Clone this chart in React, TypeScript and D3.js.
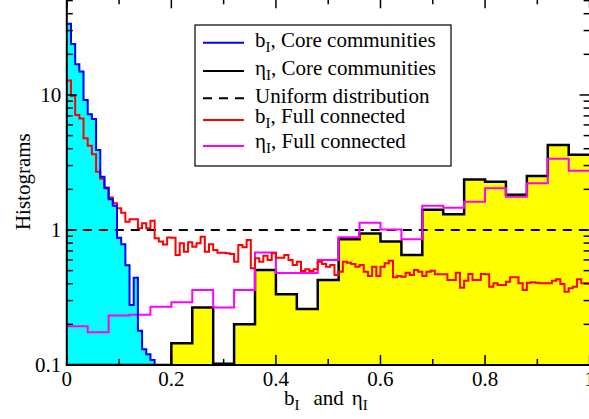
import React from "react";
import * as d3 from "d3";

// ---------- data ----------
const fineBinWidth = 0.008; // b_I histograms (125 bins)
const coarseBinWidth = 0.04; // eta_I histograms (25 bins)

// b_I, Core communities (blue / cyan fill)
const bCore = [
  33.7, 23.9, 16.9, 14.9, 9.19, 7.19, 6.64, 3.92, 2.48, 2.04, 1.69, 1.51, 0.877,
  0.783, 0.547, 0.278, 0.443, 0.179, 0.131, 0.12, 0.109, 0,
];

// eta_I, Core communities (black / yellow fill)
const etaCore = [
  0, 0, 0, 0, 0, 0.145, 0.267, 0.102, 0.2, 0.505, 0.334, 0.26, 0.426, 0.853,
  0.94, 0.82, 0.653, 1.41, 1.31, 2.37, 2.28, 1.82, 2.51, 4.26, 3.61,
];

// b_I, Full connected (red)
const bFull = [
  12.8, 9.84, 7.11, 6.7, 4.78, 4.21, 3.64, 2.7, 2.4, 2.06, 1.74, 1.58, 1.45,
  1.34, 1.15, 1.2, 1.2, 1.03, 1.12, 1.03, 1.17, 0.868, 0.82, 0.78, 0.88, 0.877,
  0.653, 0.797, 0.691, 0.811, 0.752, 0.797, 0.892, 0.691, 0.783, 0.711, 0.679,
  0.679, 0.672, 0.664, 0.582, 0.774, 0.744, 0.843, 0.52, 0.617, 0.582, 0.645,
  0.6, 0.672, 0.624, 0.624, 0.653, 0.6, 0.55, 0.582, 0.497, 0.512, 0.497, 0.512,
  0.582, 0.56, 0.535, 0.55, 0.464, 0.491, 0.582, 0.573, 0.56, 0.535, 0.55,
  0.491, 0.456, 0.535, 0.456, 0.535, 0.566, 0.593, 0.446, 0.456, 0.451, 0.483,
  0.464, 0.505, 0.491, 0.456, 0.491, 0.5, 0.47, 0.47, 0.47, 0.426, 0.426, 0.483,
  0.374, 0.42, 0.472, 0.426, 0.426, 0.472, 0.47, 0.38, 0.403, 0.391, 0.391,
  0.414, 0.446, 0.446, 0.403, 0.36, 0.407, 0.41, 0.407, 0.403, 0.403, 0.403,
  0.42, 0.431, 0.398, 0.349, 0.37, 0.38, 0.431, 0.403, 0.403,
];

// eta_I, Full connected (magenta)
const etaFull = [
  0.194, 0.175, 0.233, 0.236, 0.27, 0.291, 0.36, 0.267, 0.36, 0.68, 0.48, 0.48,
  0.6, 0.883, 1.13, 1.01, 0.853, 1.51, 1.46, 1.62, 2.04, 1.76, 2.22, 3.37, 2.75,
];

const uniformLevel = 1;

const xDomain = [0, 1];
const yDomain = [0.1, 52];
const xMajorTicks = [0, 0.2, 0.4, 0.6, 0.8, 1];
const xTickLabels = ["0", "0.2", "0.4", "0.6", "0.8", "1"];
const xMinorTicks = [0.1, 0.3, 0.5, 0.7, 0.9];
const yMajorTicks = [0.1, 1, 10];
const yTickLabels = ["0.1", "1", "10"];
const yMinorTicks = [
  0.2, 0.3, 0.4, 0.5, 0.6, 0.7, 0.8, 0.9, 2, 3, 4, 5, 6, 7, 8, 9, 20, 30, 40, 50,
];

const legendSymbols = ["b", "η", "", "b", "η"];
const legendTexts = [
  ", Core communities",
  ", Core communities",
  "Uniform distribution",
  ", Full connected",
  ", Full connected",
];
const legendColors = ["#0000ff", "#000000", "#000000", "#ff0000", "#ff00ff"];
const legendDashed = [false, false, true, false, false];

const xAxisTitle = ["b", "I", "and", "η", "I"];
const yAxisTitle = "Histograms";

// ---------- component ----------
export default function App() {
  const W = 589;
  const H = 419;
  const left = 66.8;
  const right = 589.6;
  const bottom = 365;
  const font = "'Liberation Serif', 'Times New Roman', Times, serif";
  const fs = 21;

  const x = d3.scaleLinear().domain(xDomain).range([left, right]);
  const y = d3.scaleLog().domain(yDomain).range([bottom, -1.7]);
  const top = y(yDomain[1]);
  const yMin = yDomain[0];

  const steps = (vals: number[], w: number) => {
    const pts: [number, number][] = vals.map((v, i) => [i * w, v]);
    pts.push([vals.length * w, vals[vals.length - 1]]);
    return pts;
  };

  const line = d3
    .line<[number, number]>()
    .x((d) => x(d[0]))
    .y((d) => y(Math.max(d[1], yMin)))
    .curve(d3.curveStepAfter);
  const area = d3
    .area<[number, number]>()
    .x((d) => x(d[0]))
    .y0(y(yMin))
    .y1((d) => y(Math.max(d[1], yMin)))
    .curve(d3.curveStepAfter);

  const bCorePts = steps(bCore, fineBinWidth);
  const etaCorePts = steps(etaCore, coarseBinWidth);
  const bFullPts = steps(bFull, fineBinWidth);
  const etaFullPts = steps(etaFull, coarseBinWidth);

  const legend = {
    x0: 195,
    y0: 25,
    w: 256,
    h: 141,
    lineX0: 203,
    lineX1: 244,
    textX: 255,
    baselines: [47, 75, 103, 123, 148],
    lineYs: [42.7, 71, 98.3, 120, 146],
  };

  const textStyle = { fontFamily: font };

  return (
    <svg
      width={W}
      height={H}
      style={{ position: "absolute", left: 0, top: 0, background: "#fff", fontFamily: font }}
    >
      <defs>
        <clipPath id="plotClip">
          <rect x={left} y={top} width={right - left + 2} height={bottom - top} />
        </clipPath>
      </defs>
      <rect x={0} y={0} width={W} height={H} fill="#fff" />
      <g clipPath="url(#plotClip)">
        <path d={area(bCorePts) || ""} fill="#00ffff" stroke="none" />
        <path d={area(etaCorePts) || ""} fill="#ffff00" stroke="none" />
        <line
          x1={x(0)}
          x2={x(1)}
          y1={y(uniformLevel)}
          y2={y(uniformLevel)}
          stroke="#000"
          strokeWidth={2}
          strokeDasharray="9,7"
        />
        <path d={line(etaCorePts) || ""} fill="none" stroke="#000" strokeWidth={2.5} />
        <path d={line(etaFullPts) || ""} fill="none" stroke="#ff00ff" strokeWidth={2} />
        <path d={line(bFullPts) || ""} fill="none" stroke="#ff0000" strokeWidth={2} />
        <path d={line(bCorePts) || ""} fill="none" stroke="#0000ff" strokeWidth={2} />
      </g>

      {/* frame */}
      <line x1={left} x2={left} y1={top} y2={bottom + 1} stroke="#000" strokeWidth={2} />
      <line x1={left - 1} x2={right + 2} y1={bottom} y2={bottom} stroke="#000" strokeWidth={2} />
      <line x1={left} x2={right + 2} y1={top} y2={top} stroke="#000" strokeWidth={2} />

      {/* x ticks */}
      {xMajorTicks.map((t) => (
        <g key={"xM" + t}>
          <line x1={x(t)} x2={x(t)} y1={bottom} y2={bottom - 10} stroke="#000" strokeWidth={1.5} />
          <line x1={x(t)} x2={x(t)} y1={top} y2={top + 10} stroke="#000" strokeWidth={1.5} />
        </g>
      ))}
      {xMinorTicks.map((t) => (
        <g key={"xm" + t}>
          <line x1={x(t)} x2={x(t)} y1={bottom} y2={bottom - 6} stroke="#000" strokeWidth={1.5} />
          <line x1={x(t)} x2={x(t)} y1={top} y2={top + 6} stroke="#000" strokeWidth={1.5} />
        </g>
      ))}
      {xMajorTicks.map((t, i) => (
        <text key={"xl" + t} x={x(t)} y={bottom + 21} fontSize={fs} textAnchor="middle" fill="#000" style={textStyle}>
          {xTickLabels[i]}
        </text>
      ))}

      {/* y ticks */}
      {yMajorTicks.map((t) => (
        <g key={"yM" + t}>
          <line x1={left} x2={left + 10} y1={y(t)} y2={y(t)} stroke="#000" strokeWidth={1.5} />
          <line x1={right} x2={right - 10} y1={y(t)} y2={y(t)} stroke="#000" strokeWidth={1.5} />
        </g>
      ))}
      {yMinorTicks.map((t) => (
        <g key={"ym" + t}>
          <line x1={left} x2={left + 6} y1={y(t)} y2={y(t)} stroke="#000" strokeWidth={1.5} />
          <line x1={right} x2={right - 6} y1={y(t)} y2={y(t)} stroke="#000" strokeWidth={1.5} />
        </g>
      ))}
      {yMajorTicks.map((t, i) => (
        <text key={"yl" + t} x={left - 5.5} y={y(t) + 7} fontSize={fs} textAnchor="end" fill="#000" style={textStyle}>
          {yTickLabels[i]}
        </text>
      ))}

      {/* axis titles */}
      <text x={284} y={405} fontSize={fs} fill="#000" style={textStyle}>
        <tspan>{xAxisTitle[0]}</tspan>
        <tspan fontSize={15} dy={5}>{xAxisTitle[1]}</tspan>
        <tspan dy={-5} dx={14}>{xAxisTitle[2]}</tspan>
        <tspan dx={8}>{xAxisTitle[3]}</tspan>
        <tspan fontSize={15} dy={5}>{xAxisTitle[4]}</tspan>
      </text>
      <text
        transform={`translate(30, ${(top + bottom) / 2}) rotate(-90)`}
        fontSize={fs}
        textAnchor="middle"
        fill="#000"
        style={textStyle}
      >
        {yAxisTitle}
      </text>

      {/* legend */}
      <rect
        x={legend.x0}
        y={legend.y0}
        width={legend.w}
        height={legend.h}
        fill="#fff"
        stroke="#000"
        strokeWidth={1.2}
      />
      {legendTexts.map((txt, i) => (
        <g key={"lg" + i}>
          <line
            x1={legend.lineX0}
            x2={legend.lineX1}
            y1={legend.lineYs[i]}
            y2={legend.lineYs[i]}
            stroke={legendColors[i]}
            strokeWidth={2}
            strokeDasharray={legendDashed[i] ? "9,7" : undefined}
          />
          <text x={legend.textX} y={legend.baselines[i]} fontSize={fs} fill="#000" style={textStyle}>
            {legendSymbols[i] ? (
              <>
                <tspan>{legendSymbols[i]}</tspan>
                <tspan fontSize={15} dy={5}>I</tspan>
                <tspan dy={-5}>{txt}</tspan>
              </>
            ) : (
              <tspan>{txt}</tspan>
            )}
          </text>
        </g>
      ))}
    </svg>
  );
}
